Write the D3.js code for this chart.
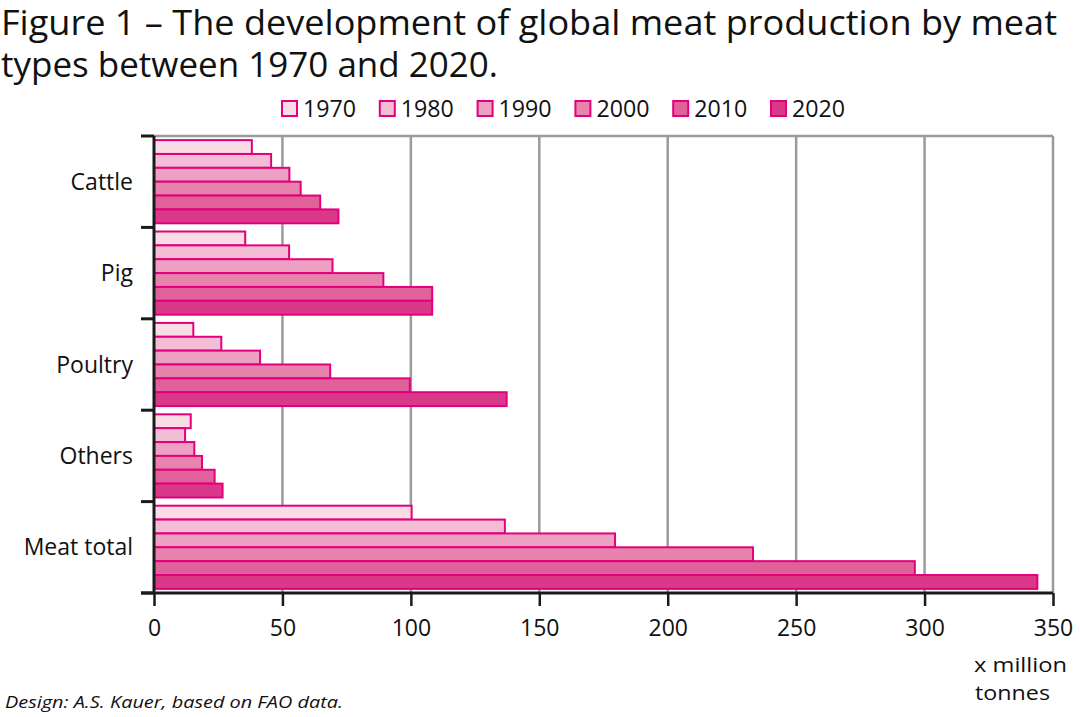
<!DOCTYPE html>
<html><head><meta charset="utf-8">
<script src="https://cdn.jsdelivr.net/npm/d3@7"></script>
<style>body{margin:0;background:#fff}svg{display:block}text{font-family:"Open Sans",sans-serif;fill:#111}</style>
</head><body>
<svg id="c" width="1080" height="717"></svg>
<script>
const categories = ["Cattle","Pig","Poultry","Others","Meat total"];
const years = ["1970","1980","1990","2000","2010","2020"];
const v1970 = [38.1, 35.5, 15.3, 14.3, 100.3];
const v1980 = [45.6, 52.6, 26.2, 12.1, 136.6];
const v1990 = [52.7, 69.5, 41.3, 15.7, 179.5];
const v2000 = [57.1, 89.3, 68.6, 18.7, 233.2];
const v2010 = [64.7, 108.3, 99.6, 23.6, 296.2];
const v2020 = [71.8, 108.3, 137.3, 26.7, 343.9];
const xTicks = [0,50,100,150,200,250,300,350];
const colors = ["#fadce7","#f3bed5","#eca0c2","#e684ae","#e0629b","#da3888"];
const series = [v1970,v1980,v1990,v2000,v2010,v2020];

const svg = d3.select("#c");
const L=154, R=1053, T=136, B=593;
const x = d3.scaleLinear().domain([0,350]).range([L,R]);
const y = d3.scaleBand().domain(categories).range([T,B]).paddingInner(0.09).paddingOuter(0.045);
const yi = d3.scaleBand().domain(years).range([0,y.bandwidth()]);

function fitText(sel, target){
  if (target) sel.attr("textLength", target).attr("lengthAdjust","spacingAndGlyphs");
}
// title
const t1 = svg.append("text").attr("x",1).attr("y",35).style("font-size","34px").text("Figure 1 – The development of global meat production by meat");
fitText(t1,1056);
const t2 = svg.append("text").attr("x",1).attr("y",77).style("font-size","34px").text("types between 1970 and 2020.");
fitText(t2,497);

// legend
const lg = svg.append("g");
years.forEach((yr,i)=>{
  const gx = 281 + i*97.8;
  lg.append("rect").attr("x",gx+1).attr("y",101).attr("width",15).attr("height",15)
    .attr("fill",colors[i]).attr("stroke","#e4007c").attr("stroke-width",2);
  const tt = lg.append("text").attr("x",gx+22).attr("y",117).style("font-size","23px").text(yr);
  fitText(tt,53);
});

// grid
svg.append("g").selectAll("line").data(xTicks.filter(d=>d>0)).join("line")
  .attr("x1",d=>x(d)).attr("x2",d=>x(d)).attr("y1",T).attr("y2",B)
  .attr("stroke","#9a9a9a").attr("stroke-width",2.5);
svg.append("line").attr("x1",L).attr("x2",R).attr("y1",T).attr("y2",T).attr("stroke","#9a9a9a").attr("stroke-width",2.5);

// bars
const bars = svg.append("g");
series.forEach((vals,si)=>{
  bars.selectAll(null).data(vals.map((v,ci)=>({v,c:categories[ci]}))).join("rect")
    .attr("x",x(0)).attr("y",d=>y(d.c)+yi(years[si]))
    .attr("width",d=>x(d.v)-x(0)).attr("height",yi.bandwidth())
    .attr("fill",colors[si]).attr("stroke","#e4007c").attr("stroke-width",2);
});

// axes
const ax = svg.append("g").attr("transform",`translate(0,${B})`)
  .call(d3.axisBottom(x).tickValues(xTicks).tickSize(13).tickPadding(14).tickFormat(d3.format("d")));
ax.select(".domain").attr("stroke","#1a1a1a").attr("stroke-width",3).attr("d",`M${L-13},0H${R}`);
ax.selectAll(".tick line").attr("stroke","#1a1a1a").attr("stroke-width",2.5);
ax.selectAll(".tick text").style("font-size","23px").style("font-family","'Open Sans',sans-serif").attr("fill","#111")
  .attr("dy","0.71em").attr("y",27);

// left axis
const bounds = categories.map(c=>y(c)-(y.step()*y.paddingInner())/2).concat([B]);
bounds[0]=T;
svg.append("line").attr("x1",L).attr("x2",L).attr("y1",T).attr("y2",B).attr("stroke","#1a1a1a").attr("stroke-width",3);
svg.append("g").selectAll("line").data(bounds).join("line")
  .attr("x1",L-13).attr("x2",L).attr("y1",d=>d).attr("y2",d=>d).attr("stroke","#1a1a1a").attr("stroke-width",3);
svg.append("g").selectAll("text").data(categories).join("text")
  .attr("x",133).attr("y",c=>y(c)+y.bandwidth()/2+8).attr("text-anchor","end").style("font-size","23px").text(c=>c);

// unit
const u1 = svg.append("text").attr("x",974).attr("y",672).style("font-size","20px").text("x million");
fitText(u1,93);
const u2 = svg.append("text").attr("x",975).attr("y",700).style("font-size","20px").text("tonnes");
fitText(u2,75);
// footer
const ft = svg.append("text").attr("x",5).attr("y",708).style("font-size","17px").style("font-style","italic").text("Design: A.S. Kauer, based on FAO data.");
fitText(ft,338);
</script>
</body></html>
